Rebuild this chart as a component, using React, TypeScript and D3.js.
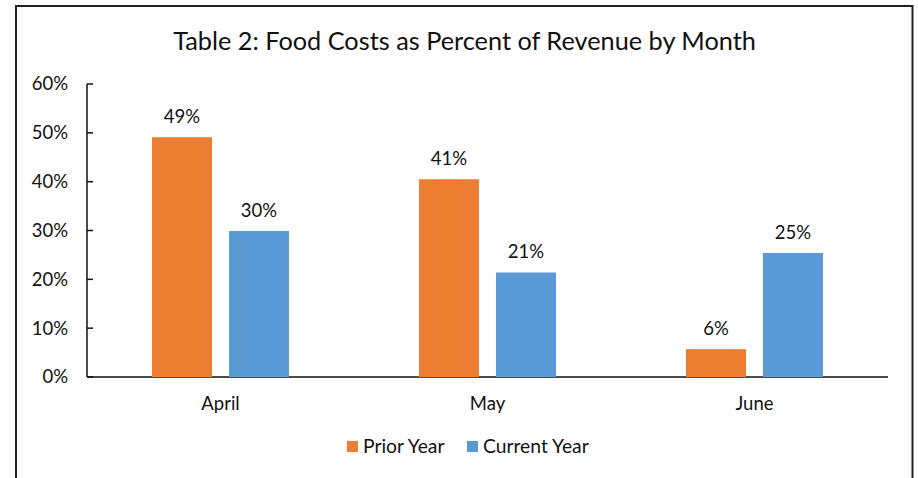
import React from "react";
import * as d3 from "d3";

const months = ["April", "May", "June"];
const series = ["Prior Year", "Current Year"];
const priorYear = [49.1, 40.5, 5.7];
const currentYear = [29.9, 21.4, 25.4];
const yTicks = [0, 10, 20, 30, 40, 50, 60];
const colors = ["#ED7D31", "#5B9BD5"];
const title = "Table 2: Food Costs as Percent of Revenue by Month";

const W = 918;
const H = 478;
const FONT = "Lato, 'Open Sans', sans-serif";

export default function App() {
  const x0 = 87, x1 = 888, yTop = 84, yBot = 377;
  const y = d3.scaleLinear().domain([0, 60]).range([yBot, yTop]);
  const xBand = d3.scaleBand().domain(months).range([x0, x1]).paddingInner(0).paddingOuter(0);
  const bw = xBand.bandwidth();
  const barW = 60;
  const gap = 17;
  const values = [priorYear, currentYear];

  return (
    <svg width={W} height={H} style={{ position: "absolute", left: 0, top: 0 }} fontFamily={FONT}>
      <rect x={0} y={0} width={W} height={H} fill="#fff" />
      <rect x={16} y={6} width={896.5} height={H + 20} fill="#fff" stroke="#222" strokeWidth={2} />
      <text x={464.5} y={50} textAnchor="middle" fontSize={25.3} fill="#111">{title}</text>

      {/* y axis */}
      <line x1={x0} x2={x0} y1={yTop} y2={yBot} stroke="#111" strokeWidth={1.5} />
      {yTicks.map((t) => (
        <g key={t}>
          <line x1={x0} x2={x0 + 6} y1={y(t)} y2={y(t)} stroke="#111" strokeWidth={1.5} />
          <text x={68} y={y(t)} dy="0.35em" textAnchor="end" fontSize={18.5} fill="#111">{t}%</text>
        </g>
      ))}
      {/* x axis */}
      <line x1={x0} x2={x1} y1={yBot} y2={yBot} stroke="#111" strokeWidth={1.5} />

      {months.map((m, i) => {
        const cx = (xBand(m) as number) + bw / 2;
        return (
          <g key={m}>
            {values.map((vals, s) => {
              const bx = s === 0 ? cx - gap / 2 - barW : cx + gap / 2;
              const v = vals[i];
              return (
                <g key={s}>
                  <rect x={bx} y={y(v)} width={barW} height={yBot - y(v)} fill={colors[s]} />
                  <text x={bx + barW / 2} y={y(v) - 14} textAnchor="middle" fontSize={18.5} fill="#111">
                    {Math.round(v)}%
                  </text>
                </g>
              );
            })}
            <text x={cx} y={410} textAnchor="middle" fontSize={18.5} fill="#111">{m}</text>
          </g>
        );
      })}

      {/* legend */}
      {series.map((s, i) => {
        const lx = i === 0 ? 347 : 467;
        return (
          <g key={s}>
            <rect x={lx} y={441} width={11} height={11} fill={colors[i]} />
            <text x={lx + 16} y={453} fontSize={19.3} fill="#111">{s}</text>
          </g>
        );
      })}
    </svg>
  );
}
